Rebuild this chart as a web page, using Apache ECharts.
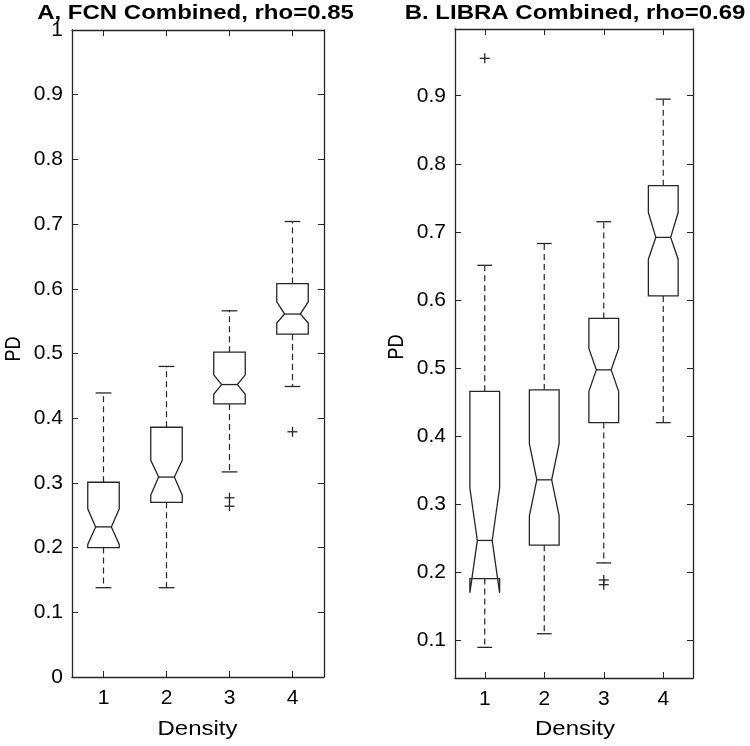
<!DOCTYPE html>
<html>
<head>
<meta charset="utf-8">
<script src="https://cdn.jsdelivr.net/npm/echarts@6/dist/echarts.min.js"></script>
<style>html,body{margin:0;padding:0;background:#fff;}#chart{width:750px;height:746px;}</style>
</head>
<body>
<div id="chart"></div>
<script>
// Categories (Density)
const categories = ['1', '2', '3', '4'];

// Panel A: FCN Combined (notched box statistics)
const fcnLowWhisker  = [0.138, 0.138, 0.317, 0.449];
const fcnQ1          = [0.200, 0.270, 0.422, 0.530];
const fcnNotchLow    = [0.205, 0.281, 0.437, 0.547];
const fcnMedian      = [0.232, 0.309, 0.452, 0.561];
const fcnNotchHigh   = [0.260, 0.335, 0.467, 0.580];
const fcnQ3          = [0.301, 0.386, 0.502, 0.608];
const fcnHighWhisker = [0.439, 0.480, 0.566, 0.704];
const fcnOutlierCat  = [2, 2, 3];
const fcnOutlierVal  = [0.277, 0.264, 0.379];

// Panel B: LIBRA Combined
const libLowWhisker  = [0.090, 0.110, 0.214, 0.420];
const libQ1          = [0.191, 0.240, 0.420, 0.606];
const libNotchLow    = [0.170, 0.283, 0.466, 0.660];
const libMedian      = [0.247, 0.336, 0.4975, 0.692];
const libNotchHigh   = [0.324, 0.389, 0.529, 0.7285];
const libQ3          = [0.466, 0.468, 0.573, 0.768];
const libHighWhisker = [0.651, 0.683, 0.715, 0.895];
const libOutlierCat  = [0, 2, 2];
const libOutlierVal  = [0.955, 0.189, 0.182];

// Tick labels
const fcnTicks = [0, 0.1, 0.2, 0.3, 0.4, 0.5, 0.6, 0.7, 0.8, 0.9, 1];
const libTicks = [0.1, 0.2, 0.3, 0.4, 0.5, 0.6, 0.7, 0.8, 0.9];

const titleA = 'A, FCN Combined, rho=0.85';
const titleB = 'B. LIBRA Combined, rho=0.69';
const xName = 'Density';
const yName = 'PD';

const LINE = '#262626';
const FONT = '"Liberation Sans", Arial, Helvetica, sans-serif';

function boxData(lw, q1, nl, med, nh, q3, hw) {
  return categories.map((c, i) => [i, lw[i], q1[i], nl[i], med[i], nh[i], q3[i], hw[i]]);
}
function outData(cat, val) {
  return cat.map((c, i) => [c, val[i]]);
}

function renderBox(params, api) {
  const idx = api.value(0);
  const band = api.size([1, 0])[0];
  const half = band * 0.25;
  const inner = half * 0.5;
  const cap = half * 0.5;
  const cx = api.coord([idx, 0])[0];
  const Y = v => api.coord([idx, v])[1];
  const lw = api.value(1), q1 = api.value(2), nl = api.value(3), med = api.value(4),
        nh = api.value(5), q3 = api.value(6), hw = api.value(7);
  const st = { stroke: LINE, lineWidth: 1.3, fill: null };
  const dash = { stroke: LINE, lineWidth: 1.2, lineDash: [6, 4] };
  return {
    type: 'group',
    children: [
      { type: 'polygon', shape: { points: [
        [cx - half, Y(q1)], [cx - half, Y(nl)], [cx - inner, Y(med)], [cx - half, Y(nh)], [cx - half, Y(q3)],
        [cx + half, Y(q3)], [cx + half, Y(nh)], [cx + inner, Y(med)], [cx + half, Y(nl)], [cx + half, Y(q1)]
      ] }, style: st },
      { type: 'line', shape: { x1: cx - inner, y1: Y(med), x2: cx + inner, y2: Y(med) }, style: st },
      { type: 'line', shape: { x1: cx, y1: Y(q3), x2: cx, y2: Y(hw) }, style: dash },
      { type: 'line', shape: { x1: cx, y1: Y(q1), x2: cx, y2: Y(lw) }, style: dash },
      { type: 'line', shape: { x1: cx - cap, y1: Y(hw), x2: cx + cap, y2: Y(hw) }, style: st },
      { type: 'line', shape: { x1: cx - cap, y1: Y(lw), x2: cx + cap, y2: Y(lw) }, style: st }
    ]
  };
}

function renderPlus(params, api) {
  const p = api.coord([api.value(0), api.value(1)]);
  const s = 5;
  const st = { stroke: LINE, lineWidth: 1.3 };
  return {
    type: 'group',
    children: [
      { type: 'line', shape: { x1: p[0] - s, y1: p[1], x2: p[0] + s, y2: p[1] }, style: st },
      { type: 'line', shape: { x1: p[0], y1: p[1] - s, x2: p[0], y2: p[1] + s }, style: st }
    ]
  };
}

function xAx(grid, pos, labels) {
  return {
    type: 'category', gridIndex: grid, position: pos, data: categories,
    boundaryGap: true,
    axisLine: { show: true, onZero: false, lineStyle: { color: LINE, width: 1.3 } },
    axisTick: { show: true, inside: true, alignWithLabel: true, length: 6, lineStyle: { color: LINE } },
    axisLabel: { show: labels, fontSize: 21, color: '#000', fontFamily: FONT, margin: 11 },
    splitLine: { show: false }
  };
}
function yAx(grid, pos, labels, min, max, ticks) {
  return {
    type: 'value', gridIndex: grid, position: pos, min: min, max: max,
    axisLine: { show: true, onZero: false, lineStyle: { color: LINE, width: 1.3 } },
    axisTick: { show: true, inside: true, length: 6, customValues: ticks, lineStyle: { color: LINE } },
    axisLabel: { show: labels, fontSize: 21, color: '#000', fontFamily: FONT, margin: 9,
      customValues: ticks, showMinLabel: true, showMaxLabel: true,
      formatter: v => String(Math.round(v * 10) / 10) },
    splitLine: { show: false }
  };
}

function txt(x, y, text, size, bold, rot) {
  return {
    type: 'text', x: x, y: y, rotation: rot || 0,
    scaleX: rot ? 1 : 1.2, scaleY: rot ? 1.25 : 1,
    style: { text: text, x: 0, y: 0, fill: '#000', font: (bold ? 'bold ' : '') + size + 'px ' + FONT,
      textAlign: 'center', textVerticalAlign: 'middle', align: 'center', verticalAlign: 'middle' }
  };
}

const chart = echarts.init(document.getElementById('chart'), null, { renderer: 'canvas' });
chart.setOption({
  animation: false,
  backgroundColor: '#fff',
  grid: [
    { left: 72, top: 30, width: 252, height: 647 },
    { left: 455, top: 29, width: 238, height: 649 }
  ],
  xAxis: [xAx(0, 'bottom', true), xAx(0, 'top', false), xAx(1, 'bottom', true), xAx(1, 'top', false)],
  yAxis: [
    yAx(0, 'left', true, 0, 1, fcnTicks), yAx(0, 'right', false, 0, 1, fcnTicks),
    yAx(1, 'left', true, 0.045, 0.998, libTicks), yAx(1, 'right', false, 0.045, 0.998, libTicks)
  ],
  graphic: [
    txt(195.5, 13, titleA, 20, true),
    txt(575, 13, titleB, 20, true),
    txt(197.5, 729, xName, 20, false),
    txt(575, 729, xName, 20, false),
    txt(14, 349, yName, 18, false, Math.PI / 2),
    txt(397, 347, yName, 18, false, Math.PI / 2)
  ],
  series: [
    { type: 'custom', xAxisIndex: 0, yAxisIndex: 0, renderItem: renderBox, clip: false,
      encode: { x: 0, y: [1, 2, 3, 4, 5, 6, 7] },
      data: boxData(fcnLowWhisker, fcnQ1, fcnNotchLow, fcnMedian, fcnNotchHigh, fcnQ3, fcnHighWhisker) },
    { type: 'custom', xAxisIndex: 0, yAxisIndex: 0, renderItem: renderPlus, clip: false,
      encode: { x: 0, y: 1 }, data: outData(fcnOutlierCat, fcnOutlierVal) },
    { type: 'custom', xAxisIndex: 2, yAxisIndex: 2, renderItem: renderBox, clip: false,
      encode: { x: 0, y: [1, 2, 3, 4, 5, 6, 7] },
      data: boxData(libLowWhisker, libQ1, libNotchLow, libMedian, libNotchHigh, libQ3, libHighWhisker) },
    { type: 'custom', xAxisIndex: 2, yAxisIndex: 2, renderItem: renderPlus, clip: false,
      encode: { x: 0, y: 1 }, data: outData(libOutlierCat, libOutlierVal) }
  ]
});
</script>
</body>
</html>
